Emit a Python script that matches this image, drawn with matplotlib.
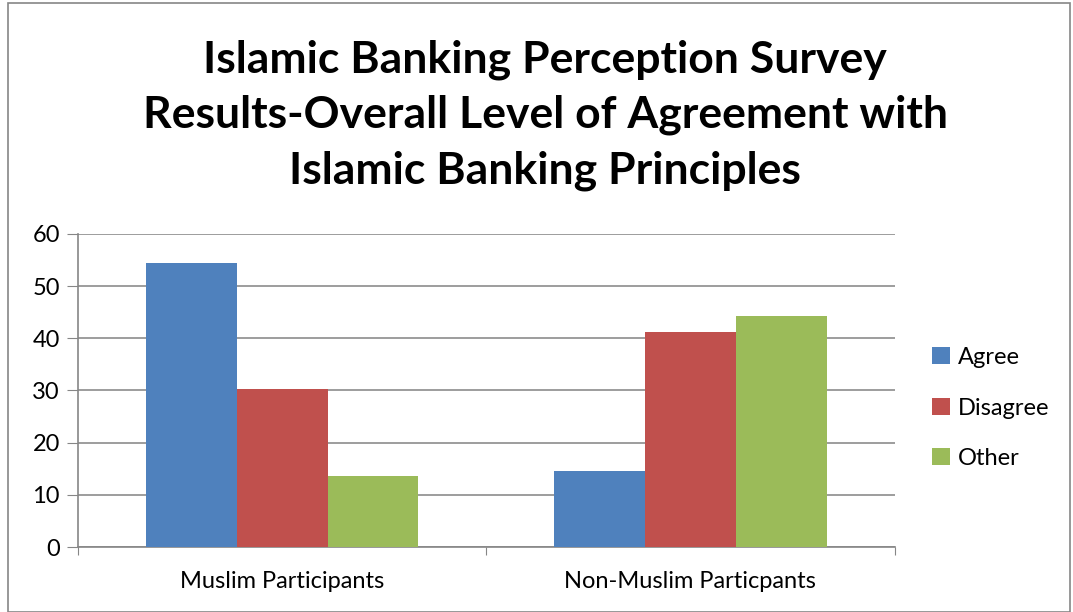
import numpy as np
import matplotlib.pyplot as plt
from matplotlib.patches import Rectangle

plt.rcParams['font.family'] = ['Lato', 'DejaVu Sans']

categories = ['Muslim Participants', 'Non-Muslim Particpants']
series = ['Agree', 'Disagree', 'Other']
agree = [54.5, 14.6]
disagree = [30.3, 41.1]
other = [13.7, 44.3]
colors = ['#4f81bd', '#c0504d', '#9bbb59']
yticks = [0, 10, 20, 30, 40, 50, 60]

fig = plt.figure(figsize=(10.73, 6.12), dpi=100)
ax = fig.add_axes([0.0727, 0.106, 0.761, 0.512])

x = np.arange(len(categories))
w = 1 / 4.5
for i, (name, vals) in enumerate(zip(series, [agree, disagree, other])):
    ax.bar(x + (i - 1) * w, vals, w, color=colors[i], label=name, zorder=3)

ax.set_xlim(-0.5, 1.5)
ax.set_ylim(0, 60)
ax.set_yticks(yticks)
ax.tick_params(axis='y', length=8, color='#868686', labelsize=17, pad=5)
ax.yaxis.grid(True, color='#8c8c8c', linewidth=1.2, zorder=0)
ax.set_xticks([-0.5, 0.5, 1.5])
ax.set_xticklabels([])
ax.tick_params(axis='x', length=6, color='#868686')
ax.set_xticks(x, minor=True)
ax.set_xticklabels(categories, minor=True, fontsize=17)
ax.tick_params(axis='x', which='minor', length=0, pad=17)
for s in ['top', 'right']:
    ax.spines[s].set_visible(False)
for s in ['left', 'bottom']:
    ax.spines[s].set_color('#868686')
    ax.spines[s].set_linewidth(1.2)

fig.text(0.508, 0.812, 'Islamic Banking Perception Survey\nResults-Overall Level of Agreement with\nIslamic Banking Principles',
         ha='center', va='center', fontsize=32, fontweight='bold', linespacing=1.45)

ax.legend(loc='center left', bbox_to_anchor=(1.02, 0.444), frameon=False, fontsize=17,
          handlelength=0.75, handleheight=0.75, handletextpad=0.35, labelspacing=1.25)

fig.patches.append(Rectangle((0.007, 0.0), 0.99, 0.995, transform=fig.transFigure,
                             fill=False, edgecolor='#868686', linewidth=1.2))

fig.savefig('out.png', dpi=100)
